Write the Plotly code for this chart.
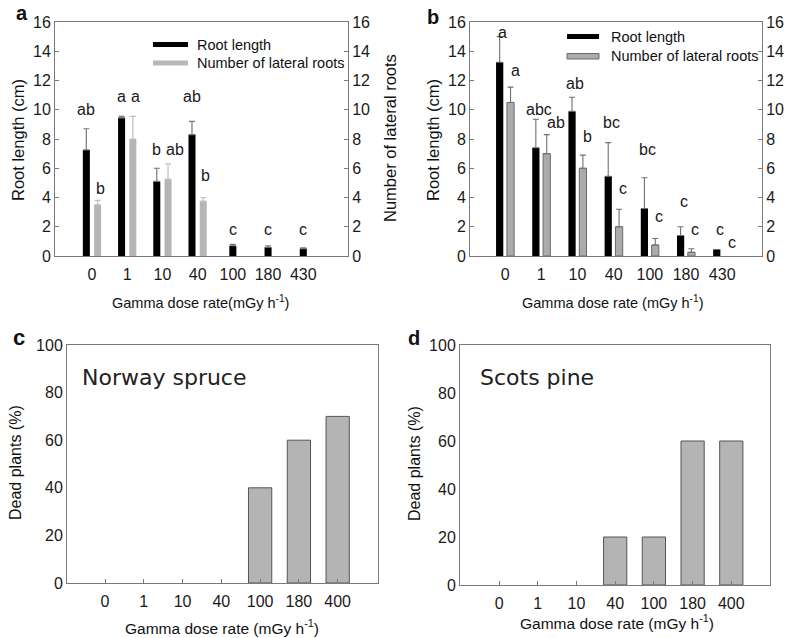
import plotly.graph_objects as go

# ---------------- data ----------------
dose_ab = ["0", "1", "10", "40", "100", "180", "430"]

a_root = [7.25, 9.45, 5.1, 8.3, 0.7, 0.6, 0.5]
a_root_err = [1.45, 0.1, 0.9, 0.9, 0.1, 0.1, 0.05]
a_lat = [3.5, 8.0, 5.25, 3.75, 0, 0, 0]
a_lat_err = [0.3, 1.55, 1.05, 0.25]
a_root_letters = ["ab", "a", "b", "ab", "c", "c", "c"]
a_root_letter_y = [10.0, 10.9, 7.3, 10.9, 1.8, 1.8, 1.8]
a_lat_letters = ["b", "a", "ab", "b"]
a_lat_letter_y = [4.6, 10.9, 7.3, 5.5]

b_root = [13.25, 7.4, 9.9, 5.45, 3.25, 1.4, 0.45]
b_root_err = [1.75, 1.95, 0.95, 2.3, 2.1, 0.6]
b_lat = [10.5, 7.0, 6.0, 2.0, 0.75, 0.25, 0]
b_lat_err = [1.05, 1.3, 0.9, 1.2, 0.45, 0.25]
b_root_letters = ["a", "abc", "ab", "bc", "bc", "c", "c"]
b_root_letter_y = [15.3, 10.0, 11.8, 9.1, 7.25, 3.7, 1.8]
b_lat_letters = ["a", "ab", "b", "c", "c", "c", "c"]
b_lat_letter_y = [12.7, 9.1, 8.2, 4.6, 2.7, 1.8, 0.95]

dose_cd = ["0", "1", "10", "40", "100", "180", "400"]
c_dead = [0, 0, 0, 0, 40, 60, 70]
d_dead = [0, 0, 0, 20, 20, 60, 60]

# ---------------- helpers ----------------
W, H = 797, 638
FONT = "Liberation Sans, Arial, sans-serif"
AX = "#7a7a7a"


def px(x):
    return x / W


def py(y):
    return 1 - y / H


fig = go.Figure()

# ---- panel a ----
bw = 0.2
a_off = [-0.26 if v > 0 else -bw / 2 for v in a_lat]
fig.add_trace(go.Bar(
    x=dose_ab, y=a_root, width=bw, offset=a_off, marker=dict(color="black", line=dict(width=0)),
    error_y=dict(type="data", symmetric=False, array=a_root_err, arrayminus=[0] * len(a_root_err),
                 color="#777777", thickness=1.2, width=3),
    xaxis="x", yaxis="y", showlegend=False))
fig.add_trace(go.Bar(
    x=dose_ab, y=a_lat, width=bw, offset=0.06, marker=dict(color="#b5b5b5", line=dict(width=0)),
    error_y=dict(type="data", symmetric=False, array=a_lat_err, arrayminus=[0] * len(a_lat_err),
                 color="#c0c0c0", thickness=1.2, width=3),
    xaxis="x", yaxis="y2", showlegend=False))

# ---- panel b ----
fig.add_trace(go.Bar(
    x=dose_ab, y=b_root, width=bw, offset=-0.25, marker=dict(color="black", line=dict(width=0)),
    error_y=dict(type="data", symmetric=False, array=b_root_err, arrayminus=[0] * len(b_root_err),
                 color="#707070", thickness=1.1, width=3),
    xaxis="x2", yaxis="y3", showlegend=False))
fig.add_trace(go.Bar(
    x=dose_ab, y=b_lat, width=bw, offset=0.05,
    marker=dict(color="#ababab", line=dict(width=[1 if v > 0 else 0 for v in b_lat], color="#6a6a6a")),
    error_y=dict(type="data", symmetric=False, array=b_lat_err, arrayminus=[0] * len(b_lat_err),
                 color="#707070", thickness=1.1, width=3),
    xaxis="x2", yaxis="y4", showlegend=False))

# ---- panels c, d ----
fig.add_trace(go.Bar(
    x=dose_cd, y=c_dead, width=0.6,
    marker=dict(color="#b4b4b4", line=dict(width=[1 if v > 0 else 0 for v in c_dead], color="#555555")),
    xaxis="x3", yaxis="y5", showlegend=False))
fig.add_trace(go.Bar(
    x=dose_cd, y=d_dead, width=0.6,
    marker=dict(color="#b4b4b4", line=dict(width=[1 if v > 0 else 0 for v in d_dead], color="#555555")),
    xaxis="x4", yaxis="y6", showlegend=False))

tickfont = dict(family=FONT, size=16, color="#1a1a1a")


def xax(dom, anchor, rng, ticks=""):
    return dict(domain=dom, anchor=anchor, type="category", range=rng, showline=True, linecolor=AX,
                linewidth=1, mirror=True, ticks=ticks, ticklen=4, tickcolor=AX, tickfont=tickfont,
                showgrid=False, zeroline=False, automargin=False, ticklabelstandoff=4)


def yax(dom, anchor, rng, dtick, ticks="inside", **kw):
    d = dict(domain=dom, anchor=anchor, range=rng, dtick=dtick, showline=True, linecolor=AX,
             linewidth=1, ticks=ticks, ticklen=4, tickcolor=AX, tickfont=tickfont,
             showgrid=False, zeroline=False, automargin=False)
    d.update(kw)
    return d


top_dom = [py(256), py(22)]
fig.update_layout(
    width=W, height=H, margin=dict(l=0, r=0, t=0, b=0),
    paper_bgcolor="white", plot_bgcolor="white", barmode="overlay",
    font=dict(family=FONT, color="#1a1a1a"),
    xaxis=xax([px(55), px(348)], "y", [-1.05, 7.27]),
    yaxis=yax(top_dom, "x", [0, 16], 2),
    yaxis2=yax(top_dom, "x", [0, 16], 2, overlaying="y", side="right"),
    xaxis2=xax([px(470), px(762)], "y3", [-0.97, 7.1]),
    yaxis3=yax(top_dom, "x2", [0, 16], 2),
    yaxis4=yax(top_dom, "x2", [0, 16], 2, overlaying="y3", side="right"),
    xaxis3=xax([px(67), px(378)], "y5", [-0.98, 7.04], ticks="inside"),
    yaxis5=yax([py(583), py(345)], "x3", [0, 100], 20, ticks="", mirror=True),
    xaxis4=xax([px(460), px(770)], "y6", [-1.01, 7.0], ticks="inside"),
    yaxis6=yax([py(585), py(345)], "x4", [0, 100], 20, ticks="", mirror=True),
)

ann = []
lf = dict(family=FONT, size=16, color="#1a1a1a")

# letters panel a
for i, (t, y) in enumerate(zip(a_root_letters, a_root_letter_y)):
    ann.append(dict(x=i + a_off[i] + bw / 2, y=y, xref="x", yref="y", text=t, showarrow=False, font=lf))
for i, (t, y) in enumerate(zip(a_lat_letters, a_lat_letter_y)):
    ann.append(dict(x=i + 0.16, y=y, xref="x", yref="y", text=t, showarrow=False, font=lf,
                    xanchor="left", xshift=-4))
# letters panel b
for i, (t, y) in enumerate(zip(b_root_letters, b_root_letter_y)):
    ann.append(dict(x=i - 0.15, y=y, xref="x2", yref="y3", text=t, showarrow=False, font=lf, xshift=3))
for i, (t, y) in enumerate(zip(b_lat_letters, b_lat_letter_y)):
    ann.append(dict(x=i + 0.15, y=y, xref="x2", yref="y3", text=t, showarrow=False, font=lf,
                    xanchor="left", xshift=-2))


def pa(text, x, y, size=16, angle=0, family=FONT, bold=False, xanchor="center", color="#111111"):
    ann.append(dict(x=px(x), y=py(y), xref="paper", yref="paper", text=("<b>%s</b>" % text) if bold else text,
                    showarrow=False, textangle=angle, xanchor=xanchor, yanchor="middle",
                    font=dict(family=family, size=size, color=color)))


# axis titles
pa("Root length (cm)", 18, 140, size=16.5, angle=-90)
pa("Number of lateral roots", 390, 138, size=16.5, angle=-90)
pa("Gamma dose rate(mGy h<sup>-1</sup>)", 200, 302, size=14.5)
pa("Root length (cm)", 433, 140, size=16.5, angle=-90)
pa("Gamma dose rate (mGy h<sup>-1</sup>)", 612, 302, size=14.5)
pa("Dead plants (%)", 15, 463, angle=-90)
pa("Gamma dose rate (mGy h<sup>-1</sup>)", 222, 627, size=15.5)
pa("Dead plants (%)", 414, 463, angle=-90)
pa("Gamma dose rate (mGy h<sup>-1</sup>)", 617, 622, size=15.5)

# species labels
pa("Norway spruce", 80, 377, size=22, family="DejaVu Sans", xanchor="left", color="#222222")
pa("Scots pine", 478, 377, size=22, family="DejaVu Sans", xanchor="left", color="#222222")

# panel letters
pa("a", 22, 13, size=20, bold=True, family="Liberation Sans")
pa("b", 433, 17, size=20, bold=True, family="Liberation Sans")
pa("c", 19, 337, size=22, bold=True, family="Liberation Sans")
pa("d", 414, 338, size=20, bold=True, family="Liberation Sans")

# legends (drawn manually)
pa("Root length", 195, 45, size=14.5, xanchor="left")
pa("Number of lateral roots", 195, 63.5, size=14.5, xanchor="left")
pa("Root length", 609, 37, size=14.5, xanchor="left")
pa("Number of lateral roots", 609, 56, size=14.5, xanchor="left")

shapes = [
    dict(type="rect", xref="paper", yref="paper", x0=px(153), x1=px(188), y0=py(47), y1=py(42),
         fillcolor="black", line=dict(width=0)),
    dict(type="rect", xref="paper", yref="paper", x0=px(153), x1=px(188), y0=py(65.5), y1=py(60.5),
         fillcolor="#b8b8b8", line=dict(width=0)),
    dict(type="rect", xref="paper", yref="paper", x0=px(567), x1=px(599), y0=py(39), y1=py(34),
         fillcolor="black", line=dict(width=0)),
    dict(type="rect", xref="paper", yref="paper", x0=px(567), x1=px(599), y0=py(59), y1=py(53.5),
         fillcolor="#ababab", line=dict(width=1, color="#6a6a6a")),
]

fig.update_layout(annotations=ann, shapes=shapes)
fig.write_html("out.html")
